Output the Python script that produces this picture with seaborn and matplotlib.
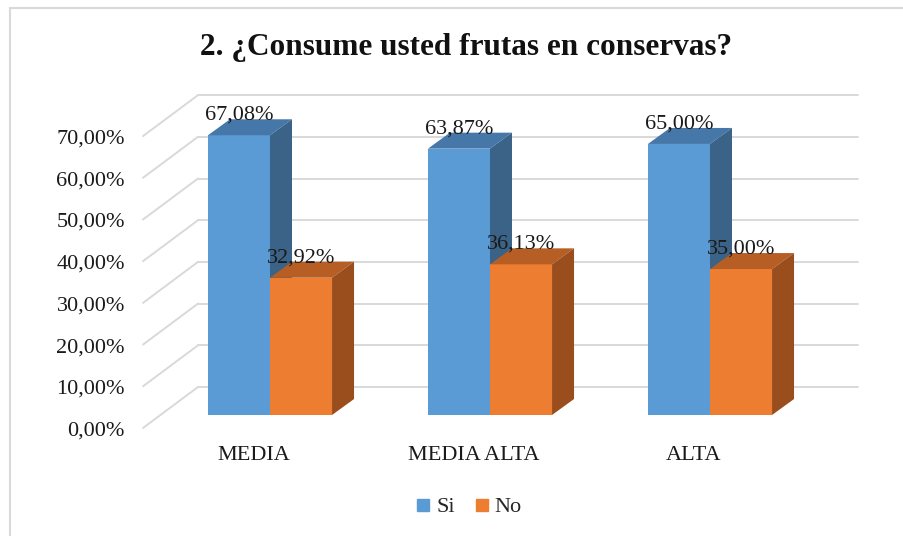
import numpy as np
import pandas as pd
import seaborn as sns
import matplotlib
matplotlib.use("Agg")
import matplotlib.pyplot as plt
from matplotlib.transforms import offset_copy, IdentityTransform
from matplotlib.patches import Polygon, Rectangle
from matplotlib.lines import Line2D

# ---------------- data ----------------
categorias = ["MEDIA", "MEDIA ALTA", "ALTA"]
series = ["Si", "No"]
si_vals = [67.08, 63.87, 65.00]
no_vals = [32.92, 36.13, 35.00]
yticks = [0, 10, 20, 30, 40, 50, 60, 70]
ytick_labels = ["0,00%", "10,00%", "20,00%", "30,00%", "40,00%", "50,00%", "60,00%", "70,00%"]
title = "2. ¿Consume usted frutas en conservas?"

# ---------------- style ----------------
sns.set_theme(style="white")
plt.rcParams["font.family"] = ["Liberation Serif", "DejaVu Serif"]

front_cols = {"Si": "#5B9BD5", "No": "#ED7D31"}
top_cols = {"Si": "#4677A9", "No": "#B65E24"}
side_cols = {"Si": "#3A6387", "No": "#9A4D1D"}
grid_col = "#D9D9D9"

W, H = 904, 536
fig = plt.figure(figsize=(W / 100, H / 100), dpi=100)
fig.patch.set_facecolor("white")

px_unit = 4.17          # pixels per percentage point
y0_img = 415            # image row of the bar baseline
xl_px, xr_px = 160, 820
ymin, ymax = -12, 80
bottom_img = y0_img - ymin * px_unit
ax = fig.add_axes([xl_px / W, (H - bottom_img) / H,
                   (xr_px - xl_px) / W, (ymax - ymin) * px_unit / H])

df = pd.DataFrame({
    "nivel": categorias * 2,
    "resp": [series[0]] * len(categorias) + [series[1]] * len(categorias),
    "pct": si_vals + no_vals,
})
sns.barplot(data=df, x="nivel", y="pct", hue="resp", order=categorias,
            hue_order=series, palette=[front_cols[s] for s in series],
            saturation=1, width=0.564, errorbar=None, legend=False, ax=ax)
ax.set_xlim(-0.5, 2.5)
ax.set_ylim(ymin, ymax)
ax.axis("off")

# planes (offsets in pixels, display y up)
front_off = (-17, -13)
back_off = (38, 28)
depth = np.array([22.0, 16.0])
front_tr = offset_copy(ax.transData, fig=fig, x=front_off[0], y=front_off[1], units="dots")
back_tr = offset_copy(ax.transData, fig=fig, x=back_off[0], y=back_off[1], units="dots")
ident = IdentityTransform()

# gridlines: back wall + left wall diagonals
for v, lab in zip(yticks, ytick_labels):
    b0 = back_tr.transform((-0.5, v))
    b1 = back_tr.transform((2.5, v))
    f0 = front_tr.transform((-0.5, v))
    ax.add_line(Line2D([b0[0], b1[0]], [b0[1], b1[1]], transform=ident,
                       color=grid_col, lw=1.4, zorder=1, clip_on=False))
    ax.add_line(Line2D([f0[0], b0[0]], [f0[1], b0[1]], transform=ident,
                       color=grid_col, lw=1.4, zorder=1, clip_on=False))
    ax.text(-0.5, v, lab,
            transform=offset_copy(ax.transData, fig=fig, x=front_off[0] - 18,
                                  y=front_off[1] - 3, units="dots"),
            ha="right", va="center", fontsize=16, color="#1a1a1a")

# 3D faces for bars
n = len(categorias)
for i, p in enumerate(ax.patches):
    s = series[0] if i < n else series[1]
    z = 3 if s == series[0] else 4
    p.set_zorder(z)
    p.set_edgecolor("none")
    x0, w, h = p.get_x(), p.get_width(), p.get_height()
    bl = ax.transData.transform((x0, 0))
    br = ax.transData.transform((x0 + w, 0))
    tl = ax.transData.transform((x0, h))
    tr = ax.transData.transform((x0 + w, h))
    top = [tl, tr, tr + depth, tl + depth]
    side = [br, tr, tr + depth, br + depth]
    ax.add_patch(Polygon(top, closed=True, transform=ident, facecolor=top_cols[s],
                         edgecolor="none", zorder=z, clip_on=False))
    ax.add_patch(Polygon(side, closed=True, transform=ident, facecolor=side_cols[s],
                         edgecolor="none", zorder=z, clip_on=False))
    ax.text(x0 + w / 2, h, f"{h:.2f}%".replace(".", ","),
            transform=offset_copy(ax.transData, fig=fig, x=0, y=20, units="dots"),
            ha="center", va="center", fontsize=16, color="#1a1a1a", zorder=6)

# category labels
for i, c in enumerate(categorias):
    ax.text(i, 0, c, transform=offset_copy(ax.transData, fig=fig, x=-16, y=-40, units="dots"),
            ha="center", va="center", fontsize=16, color="#1a1a1a")

# title
fig.text(466 / W, 1 - 47 / H, title, ha="center", va="center",
         fontsize=22.5, fontweight="bold", color="#111111")

# legend
handles = [Line2D([], [], marker="s", ls="", color=front_cols[s], markersize=8) for s in series]
fig.legend(handles=handles, labels=series, loc="center", bbox_to_anchor=(468 / W, 1 - 507 / H),
           ncol=2, frameon=False, fontsize=16, handletextpad=0.2, columnspacing=0.8,
           handlelength=0.8)

# chart frame
fig.add_artist(Rectangle((10 / W, -0.1), 1.2, 1 - 8 / H + 0.1, transform=fig.transFigure,
                         fill=False, edgecolor=grid_col, lw=1.5))

fig.savefig("out.png", dpi=100)
